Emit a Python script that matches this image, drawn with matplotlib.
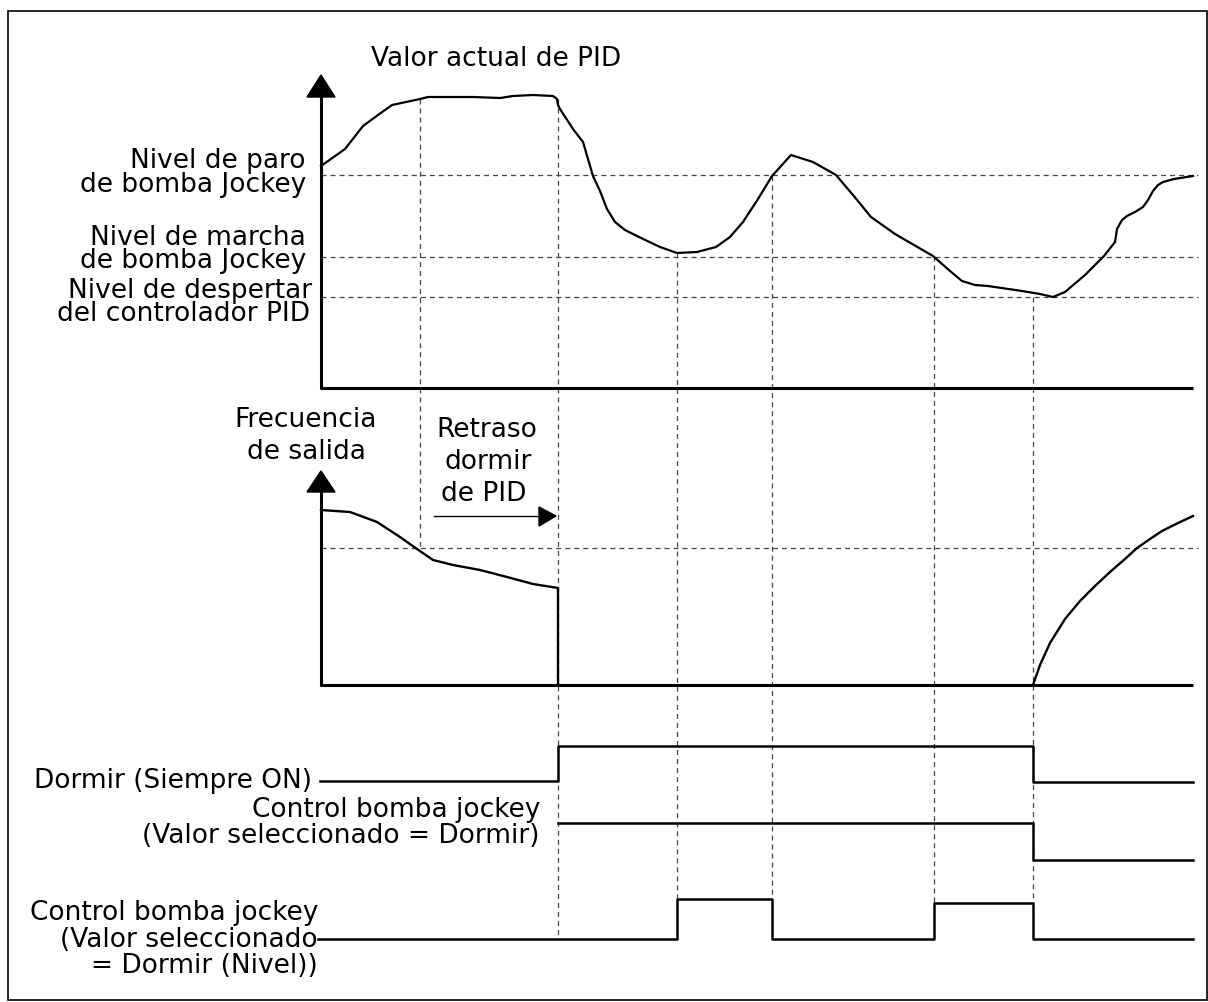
import matplotlib.pyplot as plt
from matplotlib.patches import Rectangle

plt.rcParams['font.family'] = ['DejaVu Sans']
plt.rcParams['lines.scale_dashes'] = False

# PID feedback curve (x, y in drawing units, y grows downward)
pid_x = [321, 345, 363, 378, 392, 420, 428, 473, 500, 513, 533, 553, 557, 558, 560,
         573, 583, 593, 600, 607, 615, 625, 639, 660, 677, 697, 716, 730, 743, 758,
         772, 791, 813, 836, 853, 871, 895, 933, 950, 962, 975, 988, 1022, 1040, 1053,
         1065, 1085, 1104, 1115, 1117, 1122, 1127, 1135, 1143, 1148, 1153, 1158, 1163,
         1174, 1193]
pid_y = [167, 150, 127, 116, 106, 100, 98, 98, 99, 97, 96, 97, 100, 106, 110,
         130, 143, 177, 192, 210, 223, 231, 238, 248, 254, 253, 248, 238, 223, 200,
         177, 156, 163, 176, 196, 218, 235, 257, 272, 282, 286, 287, 292, 295, 298,
         293, 276, 257, 243, 230, 221, 217, 213, 208, 201, 192, 186, 183, 180, 177]

# output frequency before sleep and after wake-up
freq_x = [321, 350, 377, 400, 417, 433, 453, 480, 507, 533, 558]
freq_y = [511, 513, 523, 538, 550, 561, 566, 571, 578, 585, 589]
wake_x = [1033, 1040, 1050, 1065, 1080, 1095, 1110, 1125, 1137, 1150, 1162, 1178, 1193]
wake_y = [686, 666, 644, 620, 602, 587, 573, 560, 549, 540, 532, 524, 517]

# threshold levels and event times
level_y = {'paro': 176, 'marcha': 258, 'despertar': 298, 'freq': 549}
event_x = [420, 558, 677, 772, 934, 1033]
event_top = [100, 100, 254, 177, 257, 298]
event_bottom = [549, 940, 900, 900, 904, 904]

# digital signals (step, post)
sleep_x = [320, 558, 1033, 1193]
sleep_y = [782, 747, 783, 783]
jockey_x = [558, 1033, 1193]
jockey_y = [824, 861, 861]
level_sig_x = [318, 677, 772, 934, 1033, 1193]
level_sig_y = [940, 900, 940, 904, 940, 940]

# text lines: (x, baseline y, text, alignment)
labels = [
    (371, 66, 'Valor actual de PID', 'left'),
    (306, 168, 'Nivel de paro', 'right'),
    (306, 192, 'de bomba Jockey', 'right'),
    (306, 245, 'Nivel de marcha', 'right'),
    (306, 268, 'de bomba Jockey', 'right'),
    (312, 298, 'Nivel de despertar', 'right'),
    (310, 321, 'del controlador PID', 'right'),
    (306, 427, 'Frecuencia', 'center'),
    (306, 459, 'de salida', 'center'),
    (487, 437, 'Retraso', 'center'),
    (488, 469, 'dormir', 'center'),
    (484, 501, 'de PID', 'center'),
    (312, 788, 'Dormir (Siempre ON)', 'right'),
    (540, 817, 'Control bomba jockey', 'right'),
    (540, 843, '(Valor seleccionado = Dormir)', 'right'),
    (318, 920, 'Control bomba jockey', 'right'),
    (318, 947, '(Valor seleccionado', 'right'),
    (318, 973, '= Dormir (Nivel))', 'right'),
]

fig = plt.figure(figsize=(12.08, 10.03), dpi=100)
ax = fig.add_axes([0, 0, 1, 1])
ax.set_xlim(0, 1208)
ax.set_ylim(1003, 0)
ax.axis('off')

ax.add_patch(Rectangle((8, 12), 1199, 989, fill=False, lw=1.2, ec='black'))

dash = dict(color='#444444', lw=0.9, ls=(0, (3.6, 2.9)))
for k in ['paro', 'marcha', 'despertar', 'freq']:
    ax.plot([321, 1198], [level_y[k], level_y[k]], **dash)
for x, t, b in zip(event_x, event_top, event_bottom):
    ax.plot([x, x], [t, b], **dash)

# axes
ax.plot([321, 321, 1193], [96, 389, 389], color='black', lw=2.2, solid_capstyle='butt')
ax.fill([307, 335, 321], [98, 98, 76], color='black')
ax.plot([321, 321, 1193], [491, 686, 686], color='black', lw=2.2, solid_capstyle='butt')
ax.fill([307, 335, 321], [493, 493, 472], color='black')

# curves
ax.plot(pid_x, pid_y, color='black', lw=1.6)
ax.plot(freq_x + [freq_x[-1]], freq_y + [686], color='black', lw=1.7)
ax.plot(wake_x, wake_y, color='black', lw=1.7)

# delay arrow
ax.plot([434, 541], [517, 517], color='black', lw=1.0)
ax.fill([539, 539, 556], [508, 527, 517], color='black')

# signals
sig = dict(where='post', color='black', lw=1.8)
ax.step(sleep_x, sleep_y, **sig)
ax.step(jockey_x, jockey_y, **sig)
ax.step(level_sig_x, level_sig_y, **sig)

for x, y, s, ha in labels:
    ax.text(x, y, s, fontsize=19, ha=ha, va='baseline')

fig.savefig('out.png', dpi=100)
